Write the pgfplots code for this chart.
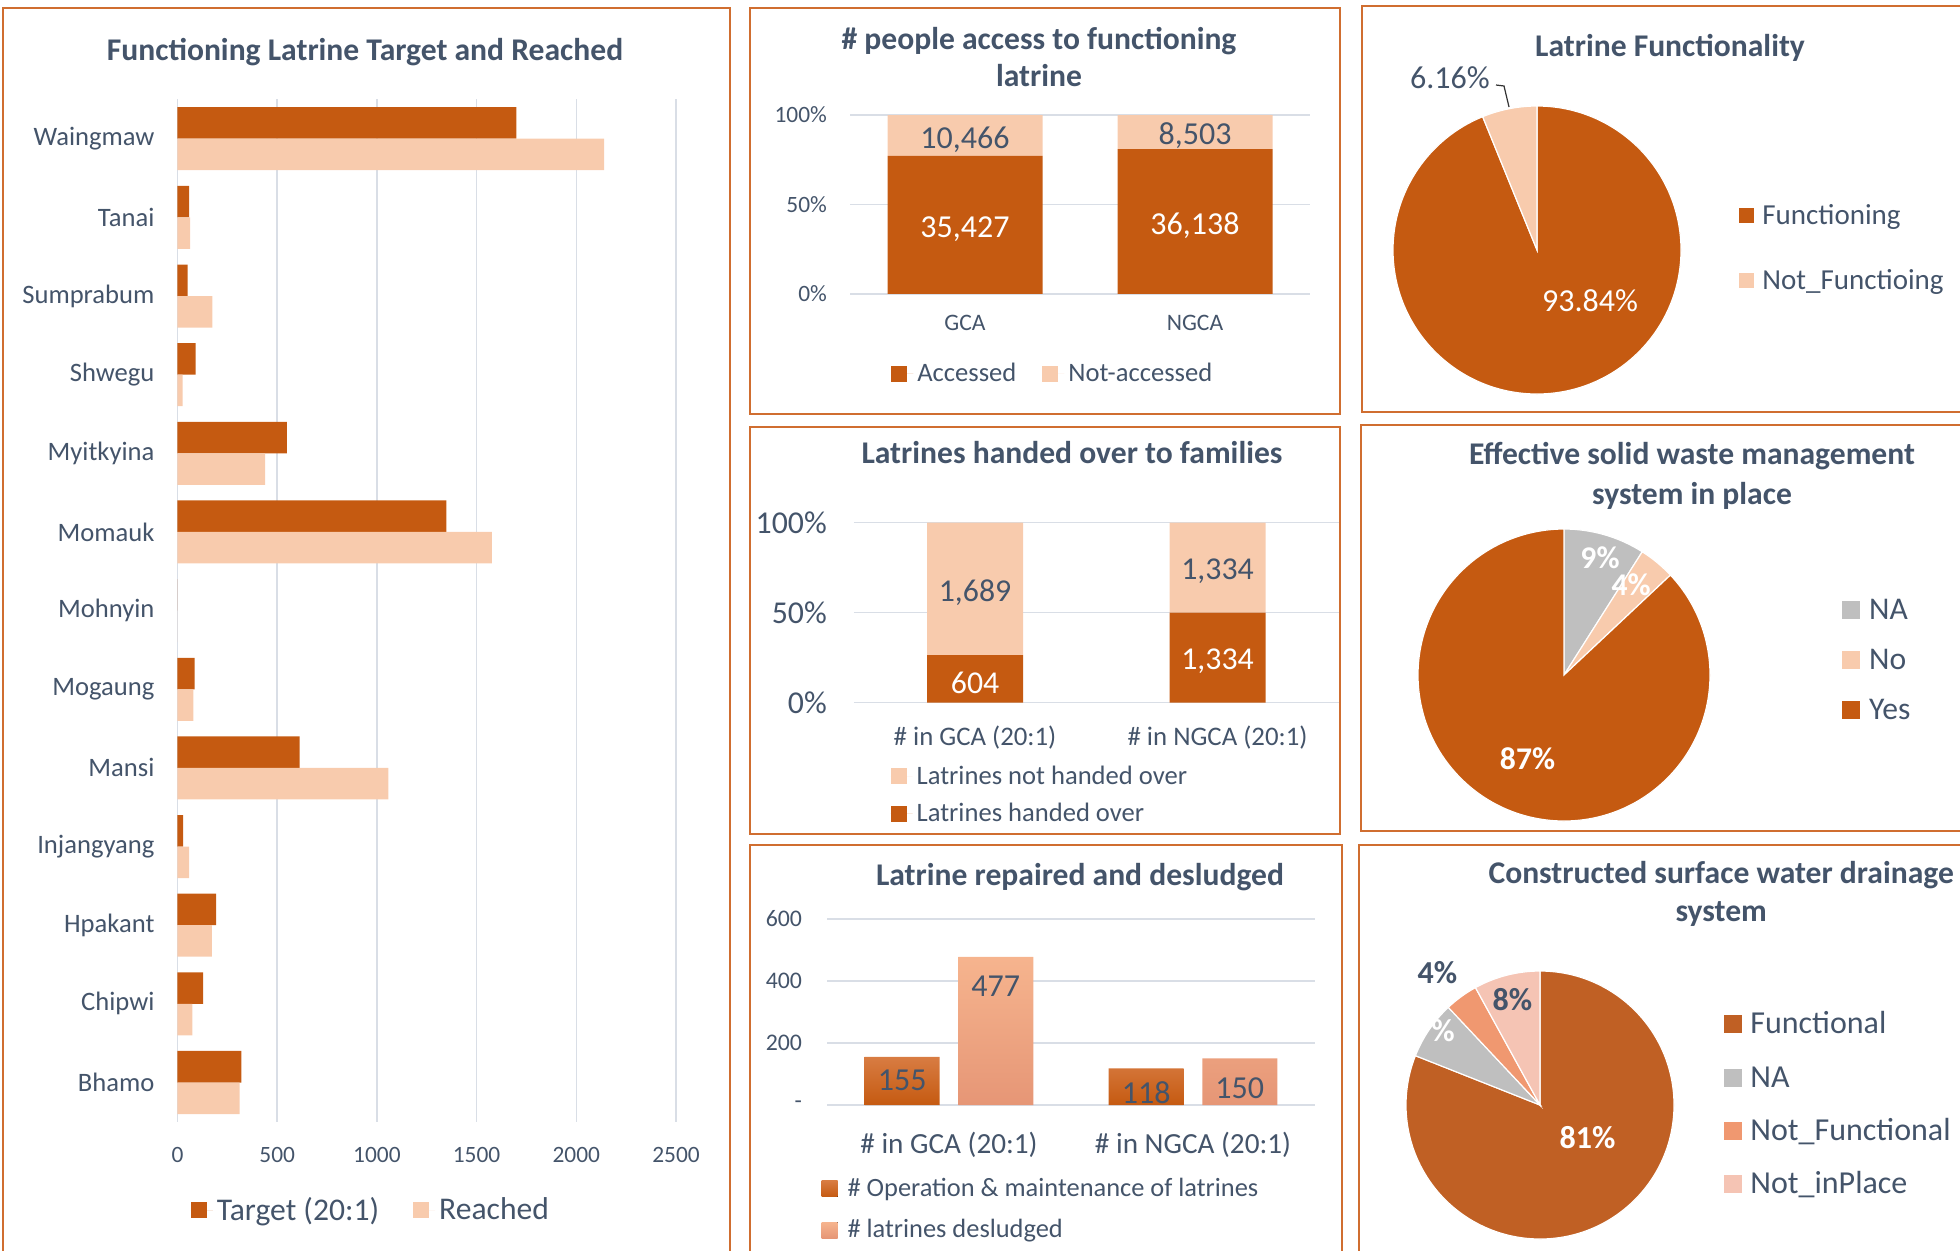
\documentclass[border=0pt]{standalone}
\usepackage{pgfplots}
\pgfplotsset{compat=1.18}
\usepackage{pgfplotstable}
\usepackage{fontspec}
\setmainfont{Carlito}
\definecolor{cDark}{RGB}{197,90,17}
\definecolor{cLight}{RGB}{248,203,173}
\definecolor{cGray}{RGB}{191,191,191}
\definecolor{cText}{RGB}{68,84,106}
\definecolor{cGrid}{RGB}{217,222,230}
\definecolor{cFrame}{RGB}{208,110,48}
\definecolor{cOMtop}{RGB}{216,124,66}
\definecolor{cOMbot}{RGB}{197,90,17}
\definecolor{cDStop}{RGB}{246,180,142}
\definecolor{cDSbot}{RGB}{230,150,118}
\definecolor{cFunc}{RGB}{192,96,36}
\definecolor{cNotF}{RGB}{240,152,112}
\definecolor{cNotP}{RGB}{245,196,180}
\newcommand\fs[1]{\fontsize{#1}{#1}\selectfont}

\pgfplotstableread{
y target reached
0 320 311
1 128 75
2 194 173
3 28 58
4 612 1058
5 86 79
6 0 0
7 1348 1577
8 549 439
9 91 26
10 51 175
11 58 63
12 1700 2140
}\landata

\pgfplotstableread{
x acc accn nacc naccn
0 77.20 35427 22.80 10466
1 80.95 36138 19.05 8503
}\accdata

\pgfplotstableread{
x hand handn nhand nhandn
0 26.34 604 73.66 1689
1 50.00 1334 50.00 1334
}\handdata

\pgfplotstableread{
x om ds
0 155 477
1 118 150
}\repdata

\pgfplotsset{
  sqlegend/.style={legend image code/.code={\fill[##1] (0pt,-4pt) rectangle (8pt,4pt); \path (0pt,0pt) -- (11pt,0pt);}},
  dashb/.style={
    scale only axis, anchor=south west,
    axis line style={draw=none}, tick style={draw=none}, major tick length=0pt,
    grid style={draw=cGrid, line width=0.7pt},
    tick label style={text=cText},
    /pgf/number format/assume math mode=true,
    legend style={draw=none, fill=none, text=cText, cells={anchor=west}, inner sep=0pt},
  },
}
\tikzset{
  ttl/.style={anchor=mid, text=cText, font=\bfseries\fs{15.8}, inner sep=0pt, yshift=-3pt},
  lbl/.style={anchor=mid, font=\fs{16}, inner sep=0pt, yshift=-3pt},
  ltx/.style={anchor=mid west, text=cText, inner sep=0pt, yshift=-2.5pt},
}
\newcommand\drawpie[3]{%
  \begin{scope}[shift={#1}]
  \gdef\cum{0}%
  \foreach \v/\c in {#3}{%
    \pgfmathsetmacro\sa{90-3.6*\cum}%
    \pgfmathsetmacro\ea{90-3.6*(\cum+\v)}%
    \fill[\c, draw=white, line width=0.6pt] (0,0) -- (\sa:#2) arc[start angle=\sa, end angle=\ea, radius=#2] -- cycle;%
    \pgfmathsetmacro\nc{\cum+\v}%
    \global\let\cum\nc
  }%
  \end{scope}}
\newcommand\lsq[4]{\node[fill=#3, minimum size=#4, inner sep=0pt] at (#1,#2) {};}

\begin{document}
\begin{tikzpicture}
\useasboundingbox (0,0) rectangle (980pt,-625pt);
\clip (0,0) rectangle (980pt,-625pt);
% frames
\begin{scope}[draw=cFrame, line width=1pt]
\draw (1.5pt,-4pt) rectangle (365pt,-640pt);
\draw (375pt,-3.75pt) rectangle (670pt,-207pt);
\draw (375pt,-213.5pt) rectangle (670pt,-417pt);
\draw (375pt,-422.5pt) rectangle (671pt,-640pt);
\draw (681pt,-3pt) rectangle (990pt,-206pt);
\draw (680.5pt,-212.5pt) rectangle (990pt,-415.5pt);
\draw (679.5pt,-422.5pt) rectangle (990pt,-640pt);
\end{scope}

% ---------- Panel 1 ----------
\node[ttl] at (182.5pt,-25pt) {Functioning Latrine Target and Reached};
\begin{axis}[dashb,
  at={(88.75pt,-560.9pt)},
  width=249.25pt, height=511.2pt,
  xbar, bar width=15.75pt,
  every axis plot post/.append style={sqlegend},
  xmin=0, xmax=2500, xtick={0,500,...,2500},
  ymin=-0.5, ymax=12.5, ytick={0,...,12},
  yticklabels={Bhamo,Chipwi,Hpakant,Injangyang,Mansi,Mogaung,Mohnyin,Momauk,Myitkyina,Shwegu,Sumprabum,Tanai,Waingmaw},
  xmajorgrids,
  scaled x ticks=false,
  xticklabel={\pgfmathprintnumber[1000 sep={}]{\tick}},
  xticklabel style={font=\fs{11.7}, yshift=-9pt},
  yticklabel style={font=\fs{13.3}, xshift=-8pt},
  legend style={at={(0.39,-0.0863)}, anchor=center, legend columns=2, font=\fs{15.8},
    /tikz/every even column/.append style={column sep=15pt}},
]
\addplot[fill=cDark, draw=none, bar shift=7.875pt] table[x=target,y=y]{\landata};
\addplot[fill=cLight, draw=none, bar shift=-7.875pt] table[x=reached,y=y]{\landata};
\legend{Target (20:1), Reached}
\end{axis}

% ---------- Panel 2 ----------
\node[ttl] at (519.5pt,-19.4pt) {\# people access to functioning};
\node[ttl] at (519.5pt,-38pt) {latrine};
\begin{axis}[dashb,
  at={(425pt,-146.9pt)}, width=230pt, height=89.4pt,
  ybar stacked, bar width=77.5pt,
  every axis plot post/.append style={sqlegend},
  xmin=-0.5, xmax=1.5, xtick={0,1}, xticklabels={GCA,NGCA},
  ymin=0, ymax=100, ytick={0,50,100}, yticklabel={\pgfmathprintnumber{\tick}\%},
  ymajorgrids,
  xticklabel style={font=\fs{11.8}, yshift=-7pt},
  yticklabel style={font=\fs{11.7}, xshift=-8pt},
  point meta=explicit,
  nodes near coords={\pgfmathprintnumber[fixed,precision=0,1000 sep={,}]{\pgfplotspointmeta}},
  every node near coord/.append style={anchor=center, font=\fs{16}, yshift=-2pt},
  legend style={at={(0.443,-0.447)}, anchor=center, legend columns=2, font=\fs{13.3},
    /tikz/every even column/.append style={column sep=11pt}},
]
\addplot[fill=cDark, draw=none, nodes near coords style={text=white}] table[x=x,y=acc,meta=accn]{\accdata};
\addplot[fill=cLight, draw=none, nodes near coords style={text=cText}] table[x=x,y=nacc,meta=naccn]{\accdata};
\legend{Accessed, Not-accessed}
\end{axis}

% ---------- Panel 3 ----------
\node[ttl] at (536pt,-226.25pt) {Latrines handed over to families};
\begin{axis}[dashb,
  at={(426.9pt,-351.25pt)}, width=242.5pt, height=90pt,
  ybar stacked, bar width=48pt,
  every axis plot post/.append style={sqlegend},
  xmin=-0.5, xmax=1.5, xtick={0,1}, xticklabels={\# in GCA (20:1),\# in NGCA (20:1)},
  ymin=0, ymax=100, ytick={0,50,100}, yticklabel={\pgfmathprintnumber{\tick}\%},
  ymajorgrids,
  xticklabel style={font=\fs{13.4}, yshift=-8pt},
  yticklabel style={font=\fs{15.9}, xshift=-10pt},
  point meta=explicit,
  nodes near coords={\pgfmathprintnumber[fixed,precision=0,1000 sep={,}]{\pgfplotspointmeta}},
  every node near coord/.append style={anchor=center, font=\fs{15.9}, yshift=-2pt},
  reverse legend,
  legend style={at={(0.075,-0.514)}, anchor=west, legend columns=1, font=\fs{13.3}, row sep=4pt},
]
\addplot[fill=cDark, draw=none, nodes near coords style={text=white}] table[x=x,y=hand,meta=handn]{\handdata};
\addplot[fill=cLight, draw=none, nodes near coords style={text=cText}] table[x=x,y=nhand,meta=nhandn]{\handdata};
\legend{Latrines handed over, Latrines not handed over}
\end{axis}

% ---------- Panel 4 ----------
\node[ttl] at (540pt,-437.5pt) {Latrine repaired and desludged};
\begin{axis}[dashb,
  at={(413.5pt,-552.5pt)}, width=244pt, height=93.1pt,
  ybar, bar width=37.5pt,
  every axis plot post/.append style={sqlegend},
  xmin=-0.5, xmax=1.5, xtick={0,1}, xticklabels={\# in GCA (20:1),\# in NGCA (20:1)},
  ymin=0, ymax=600, ytick={0,200,400,600}, yticklabels={-,200,400,600},
  ymajorgrids,
  xticklabel style={font=\fs{14.6}, yshift=-10pt},
  yticklabel style={font=\fs{11.9}, xshift=-9pt},
  nodes near coords,
  every node near coord/.append style={anchor=north, font=\fs{16}, text=cText, yshift=-3pt},
  legend style={at={(-0.012,-0.561)}, anchor=west, legend columns=1, font=\fs{13.2}, row sep=6pt},
]
\addplot[top color=cOMtop, bottom color=cOMbot, draw=none, bar shift=-23.4pt] table[x=x,y=om]{\repdata};
\addplot[top color=cDStop, bottom color=cDSbot, draw=none, bar shift=23.4pt, every node near coord/.append style={yshift=-3pt}] table[x=x,y=ds]{\repdata};
\legend{\# Operation \& maintenance of latrines, \# latrines desludged}
\end{axis}

% ---------- Panel 5 ----------
\node[ttl] at (835pt,-23pt) {Latrine Functionality};
\drawpie{(768.5pt,-125pt)}{72pt}{93.84/cDark,6.16/cLight}
\node[lbl, text=white] at (795pt,-150.5pt) {93.84\%};
\node[lbl, text=cText] at (725pt,-38.75pt) {6.16\%};
\draw[black!80, line width=0.6pt] (748pt,-42.5pt) -- (752pt,-43pt) -- (754.5pt,-53.5pt);
\lsq{873pt}{-107.5pt}{cDark}{7.5pt}
\lsq{873pt}{-140pt}{cLight}{7.5pt}
\node[ltx, font=\fs{14.5}] at (881pt,-107.5pt) {Functioning};
\node[ltx, font=\fs{14.5}] at (881pt,-140pt) {Not\_Functioing};

% ---------- Panel 6 ----------
\node[ttl] at (846pt,-226.9pt) {Effective solid waste management};
\node[ttl] at (846pt,-246.9pt) {system in place};
\drawpie{(782pt,-337.5pt)}{73pt}{9/cGray,4/cLight,87/cDark}
\node[lbl, text=white, font=\bfseries\fs{15.8}] at (800pt,-278.75pt) {9\%};
\node[lbl, text=white, font=\bfseries\fs{15.8}] at (815.6pt,-292.5pt) {4\%};
\node[lbl, text=white, font=\bfseries\fs{15.8}] at (763.75pt,-379.4pt) {87\%};
\lsq{925.6pt}{-305pt}{cGray}{9pt}
\lsq{925.6pt}{-330pt}{cLight}{9pt}
\lsq{925.6pt}{-355pt}{cDark}{9pt}
\node[ltx, font=\fs{15.8}] at (934.4pt,-305pt) {NA};
\node[ltx, font=\fs{15.8}] at (934.4pt,-330pt) {No};
\node[ltx, font=\fs{15.8}] at (934.4pt,-355pt) {Yes};

% ---------- Panel 7 ----------
\node[ttl] at (860.6pt,-436.25pt) {Constructed surface water drainage};
\node[ttl] at (860.6pt,-455.6pt) {system};
\drawpie{(770pt,-552.5pt)}{67pt}{81/cFunc,7/cGray,4/cNotF,8/cNotP}
\node[lbl, text=white, font=\bfseries\fs{16}] at (793.75pt,-568.75pt) {81\%};
\node[lbl, text=white, font=\bfseries\fs{16}] at (717.5pt,-515.6pt) {7\%};
\node[lbl, text=cText, font=\bfseries\fs{16}] at (718.75pt,-486.25pt) {4\%};
\node[lbl, text=cText, font=\bfseries\fs{16}] at (756.25pt,-500pt) {8\%};
\lsq{866.25pt}{-512pt}{cFunc}{9pt}
\lsq{866.25pt}{-538.75pt}{cGray}{9pt}
\lsq{866.25pt}{-565.6pt}{cNotF}{9pt}
\lsq{866.25pt}{-592pt}{cNotP}{9pt}
\node[ltx, font=\fs{16}] at (875pt,-512pt) {Functional};
\node[ltx, font=\fs{16}] at (875pt,-538.75pt) {NA};
\node[ltx, font=\fs{16}] at (875pt,-565.6pt) {Not\_Functional};
\node[ltx, font=\fs{16}] at (875pt,-592pt) {Not\_inPlace};
\end{tikzpicture}
\end{document}
